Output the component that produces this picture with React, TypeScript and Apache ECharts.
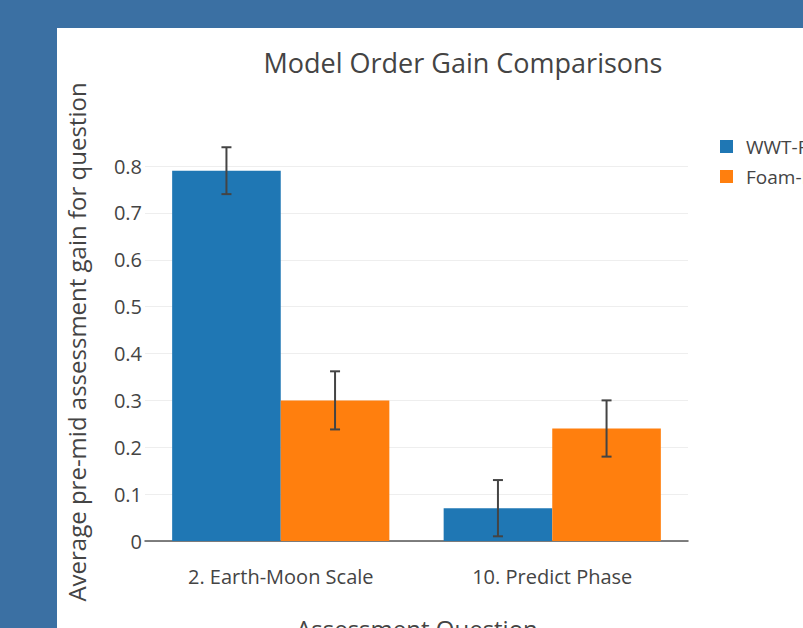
import React, { useEffect, useRef } from "react";
import * as echarts from "echarts";

const categories = ["2. Earth-Moon Scale", "10. Predict Phase"];
const seriesNames = ["WWT-First", "Foam-First"];
const wwtValues = [0.79, 0.07];
const foamValues = [0.3, 0.24];
const wwtErr = [0.05, 0.06];
const foamErr = [0.062, 0.06];
const yTicks = [0, 0.1, 0.2, 0.3, 0.4, 0.5, 0.6, 0.7, 0.8];

const BLUE = "#1f77b4";
const ORANGE = "#ff7f0e";
const TEXT = "#444";
const FONT = "Open Sans";

export default function App() {
  const ref = useRef<HTMLDivElement>(null);
  useEffect(() => {
    if (!ref.current) return;
    const chart = echarts.init(ref.current, undefined, { renderer: "svg" });

    const errData = (vals: number[], errs: number[]) =>
      vals.map((v, i) => [i, v - errs[i], v + errs[i]]);

    const makeErr = (sign: number) => (params: any, api: any) => {
      const ci = api.value(0);
      const lo = api.value(1);
      const hi = api.value(2);
      const band = api.size([1, 0])[0];
      const top = api.coord([ci, hi]);
      const bot = api.coord([ci, lo]);
      const x = top[0] + sign * 0.2 * band;
      const cap = 5;
      const style = { stroke: "#444", lineWidth: 2 };
      return {
        type: "group",
        children: [
          { type: "line", shape: { x1: x, y1: top[1], x2: x, y2: bot[1] }, style },
          { type: "line", shape: { x1: x - cap, y1: top[1], x2: x + cap, y2: top[1] }, style },
          { type: "line", shape: { x1: x - cap, y1: bot[1], x2: x + cap, y2: bot[1] }, style },
        ],
      };
    };

    chart.setOption({
      animation: false,
      backgroundColor: "transparent",
      textStyle: { fontFamily: FONT },
      graphic: [
        {
          type: "text",
          x: 463,
          y: 62,
          style: {
            text: "Model Order Gain Comparisons",
            fill: TEXT,
            font: `27px '${FONT}'`,
            align: "center",
            verticalAlign: "middle",
          },
        },
        {
          type: "text",
          x: 76,
          y: 342,
          rotation: Math.PI / 2,
          style: {
            text: "Average pre-mid assessment gain for question",
            fill: TEXT,
            font: `24px '${FONT}'`,
            align: "center",
            verticalAlign: "middle",
          },
        },
        {
          type: "text",
          x: 417,
          y: 628,
          style: {
            text: "Assessment Question",
            fill: TEXT,
            font: `24px '${FONT}'`,
            align: "center",
            verticalAlign: "middle",
          },
        },
      ],
      legend: {
        orient: "vertical",
        left: 715,
        top: 132,
        itemWidth: 13,
        itemHeight: 13,
        itemGap: 11,
        icon: "rect",
        data: seriesNames,
        textStyle: { color: TEXT, fontSize: 19, lineHeight: 13, fontFamily: FONT, padding: [0, 0, 0, 8] },
      },
      grid: { left: 145, right: 115, top: 166, bottom: 87, containLabel: false },
      xAxis: {
        type: "category",
        data: categories,
        axisTick: { show: false },
        axisLine: { show: true, lineStyle: { color: "#555", width: 1.5 } },
        axisLabel: { color: TEXT, fontSize: 20, fontFamily: FONT, margin: 25 },
        splitLine: { show: false },
      },
      yAxis: {
        type: "value",
        min: yTicks[0],
        max: yTicks[yTicks.length - 1],
        interval: 0.1,
        axisLine: { show: false },
        axisTick: { show: false },
        axisLabel: {
          color: TEXT,
          fontSize: 20,
          fontFamily: FONT,
          margin: 3,
          padding: [10, 0, 0, 0],
          formatter: (v: number) => (v === 0 ? "0" : String(Math.round(v * 10) / 10)),
        },
        splitLine: { lineStyle: { color: "#eee", width: 1 } },
      },
      series: [
        {
          name: seriesNames[0],
          type: "bar",
          data: wwtValues,
          itemStyle: { color: BLUE },
          barGap: "0%",
          barCategoryGap: "20%",
        },
        {
          name: seriesNames[1],
          type: "bar",
          data: foamValues,
          itemStyle: { color: ORANGE },
          barGap: "0%",
          barCategoryGap: "20%",
        },
        {
          type: "custom",
          renderItem: makeErr(-1),
          data: errData(wwtValues, wwtErr),
          encode: { x: 0, y: [1, 2] },
          clip: false,
          z: 10,
          silent: true,
        },
        {
          type: "custom",
          renderItem: makeErr(1),
          data: errData(foamValues, foamErr),
          encode: { x: 0, y: [1, 2] },
          clip: false,
          z: 10,
          silent: true,
        },
      ],
    });
    return () => chart.dispose();
  }, []);

  return (
    <div style={{ position: "fixed", left: 0, top: 0, width: 803, height: 628, background: "#3b70a3", overflow: "hidden" }}>
      <div style={{ position: "absolute", left: 57, top: 28, width: 746, height: 600, background: "#fff" }} />
      <div ref={ref} style={{ position: "absolute", left: 0, top: 0, width: 803, height: 628 }} />
    </div>
  );
}
